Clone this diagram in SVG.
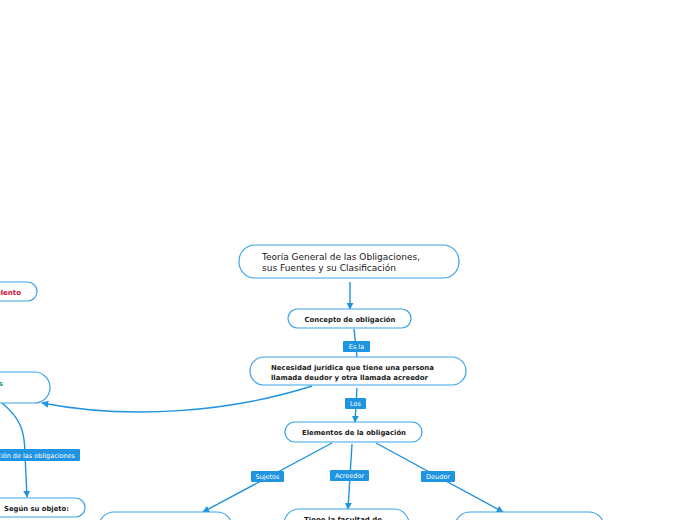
<svg xmlns="http://www.w3.org/2000/svg" width="696" height="520" viewBox="0 0 696 520">
<style>
.node{fill:#ffffff;stroke:#3ba3e8;stroke-width:1.2}
.edge{fill:none;stroke:#1f93e0;stroke-width:1.4}
.lbl{fill:#1f94e1}
.lt{font-family:"DejaVu Sans",Verdana,sans-serif;font-size:6.5px;fill:#ffffff}
.t{font-family:"DejaVu Sans",Verdana,sans-serif;fill:#1a1a1a}
.b{font-weight:bold;font-size:7px}
</style>
<defs>
<marker id="ar" viewBox="0 0 10 10" refX="9" refY="5" markerWidth="7" markerHeight="7" markerUnits="userSpaceOnUse" orient="auto">
<path d="M0,0 L10,5 L0,10 z" fill="#1f93e0"/>
</marker>
</defs>
<rect width="696" height="520" fill="#ffffff"/>
<g id="connectors">
<path class="edge" d="M350,282 L350,309" marker-end="url(#ar)"/>
<path class="edge" d="M354,329 L357,357"/>
<path class="edge" d="M312,386 C230,412 130,420 42,403" marker-end="url(#ar)"/>
<path class="edge" d="M357,388 L355,422" marker-end="url(#ar)"/>
<path class="edge" d="M332,443 L203,512" marker-end="url(#ar)"/>
<path class="edge" d="M352,444 L348,509" marker-end="url(#ar)"/>
<path class="edge" d="M376,443 L503,512" marker-end="url(#ar)"/>
<path class="edge" d="M2,403 C20,418 25,430 25,455 L27,497" marker-end="url(#ar)"/>
<rect class="lbl" x="343" y="341" width="27" height="11" rx="1"/>
<text class="lt" x="356.5" y="349" text-anchor="middle">Es la</text>
<rect class="lbl" x="345" y="398" width="21" height="11" rx="1"/>
<text class="lt" x="355.5" y="406" text-anchor="middle">Los</text>
<rect class="lbl" x="251" y="471" width="33" height="11" rx="1"/>
<text class="lt" x="267.5" y="479" text-anchor="middle">Sujetos</text>
<rect class="lbl" x="330" y="470" width="39" height="11" rx="1"/>
<text class="lt" x="349.5" y="478" text-anchor="middle">Acreedor</text>
<rect class="lbl" x="421" y="471" width="34" height="11" rx="1"/>
<text class="lt" x="438" y="479" text-anchor="middle">Deudor</text>
<rect class="lbl" x="-40" y="449" width="120" height="12" rx="1"/>
<text class="lt" x="75" y="457.5" text-anchor="end">Clasificación de las obligaciones</text>
</g>
<g id="n-title">
<rect class="node" x="239" y="245" width="220" height="33" rx="16"/>
<text class="t" font-size="9" x="262" y="260" textLength="158" lengthAdjust="spacingAndGlyphs">Teoría General de las Obligaciones,</text>
<text class="t" font-size="9" x="262" y="271" textLength="134" lengthAdjust="spacingAndGlyphs">sus Fuentes y su Clasificación</text>
</g>
<g id="n-concepto">
<rect class="node" x="288" y="309" width="123" height="19" rx="9.5"/>
<text class="t b" x="350" y="321.5" text-anchor="middle" textLength="91" lengthAdjust="spacingAndGlyphs">Concepto de obligación</text>
</g>
<g id="n-necesidad">
<rect class="node" x="250" y="357" width="216" height="28" rx="14"/>
<text class="t b" x="271" y="369.5" textLength="163" lengthAdjust="spacingAndGlyphs">Necesidad jurídica que tiene una persona</text>
<text class="t b" x="271" y="379.5" textLength="157" lengthAdjust="spacingAndGlyphs">llamada deudor y otra llamada acreedor</text>
</g>
<g id="n-elementos">
<rect class="node" x="285" y="422" width="137" height="20" rx="10"/>
<text class="t b" x="354" y="434.5" text-anchor="middle" textLength="104" lengthAdjust="spacingAndGlyphs">Elementos de la obligación</text>
</g>
<g id="n-sujetos">
<rect class="node" x="99" y="512" width="133" height="30" rx="15"/>
</g>
<g id="n-acreedor">
<rect class="node" x="284" y="509" width="125" height="30" rx="15"/>
<text class="t b" x="343" y="521.5" text-anchor="middle" textLength="78" lengthAdjust="spacingAndGlyphs">Tiene la facultad de</text>
</g>
<g id="n-deudor">
<rect class="node" x="455" y="512" width="149" height="30" rx="15"/>
</g>
<g id="n-fraudulento">
<rect class="node" x="-80" y="282" width="117" height="19" rx="9.5"/>
<text class="t b" x="21" y="294.5" text-anchor="end" fill="#d0103a" style="fill:#d0103a">Fraudulento</text>
</g>
<g id="n-fuentes">
<rect class="node" x="-120" y="372" width="170" height="31" rx="15.5"/>
<text class="t b" x="3" y="386" text-anchor="end" style="fill:#1a9a50">Fuentes</text>
</g>
<g id="n-objeto">
<rect class="node" x="-60" y="498" width="145" height="19" rx="9.5"/>
<text class="t b" x="4" y="510.5" textLength="65" lengthAdjust="spacingAndGlyphs">Según su objeto:</text>
</g>
</svg>
